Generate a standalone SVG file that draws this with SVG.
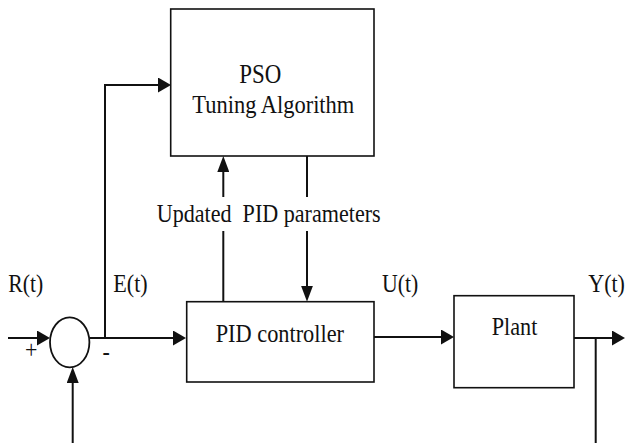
<svg xmlns="http://www.w3.org/2000/svg" width="625" height="443" viewBox="0 0 625 443">
<style>
.box{fill:#fff;stroke:#111;stroke-width:1.6}
.ln{fill:none;stroke:#111;stroke-width:2}
.t{font-family:"Liberation Serif","Times New Roman",serif;font-size:22px;fill:#111}
</style>
<defs>
<marker id="ah" markerWidth="13" markerHeight="15" refX="9" refY="7.5" orient="auto" markerUnits="userSpaceOnUse"><path d="M0,0 L13,7.5 L0,15 Z" fill="#111"/></marker>
<marker id="av" markerWidth="16" markerHeight="12" refX="12" refY="6" orient="auto" markerUnits="userSpaceOnUse"><path d="M0,0 L16,6 L0,12 Z" fill="#111"/></marker>
</defs>
<rect width="625" height="443" fill="#fff"/>
<g id="connectors">
<line class="ln" x1="8" y1="338" x2="46" y2="338" marker-end="url(#ah)"/>
<line class="ln" x1="89.5" y1="338" x2="182" y2="338" marker-end="url(#ah)"/>
<polyline class="ln" points="105,338 105,85 167,85" marker-end="url(#ah)"/>
<line class="ln" x1="72.7" y1="443" x2="72.7" y2="371" marker-end="url(#av)"/>
<line class="ln" x1="223.3" y1="301.7" x2="223.3" y2="231"/>
<line class="ln" x1="223.3" y1="197" x2="223.3" y2="160" marker-end="url(#av)"/>
<line class="ln" x1="307" y1="156" x2="307" y2="197"/>
<line class="ln" x1="307" y1="231" x2="307" y2="297.7" marker-end="url(#av)"/>
<line class="ln" x1="374" y1="337" x2="450" y2="337" marker-end="url(#ah)"/>
<line class="ln" x1="574" y1="338" x2="621" y2="338" marker-end="url(#ah)"/>
<line class="ln" x1="595.7" y1="338" x2="595.7" y2="443"/>
</g>
<g id="sum">
<ellipse cx="69.7" cy="342.3" rx="19.7" ry="25" fill="#fff" stroke="#111" stroke-width="1.8"/>
<text class="t" transform="translate(25,358) scale(1,1.15)">+</text>
<text class="t" transform="translate(102.5,360) scale(1,1.15)">-</text>
</g>
<g id="pso">
<rect class="box" x="170.7" y="9" width="203.3" height="147"/>
<text class="t" font-size="23" textLength="42" lengthAdjust="spacingAndGlyphs" transform="translate(239.3,83.3) scale(1,1.27)">PSO</text>
<text class="t" textLength="162" lengthAdjust="spacingAndGlyphs" transform="translate(192.3,113.3) scale(1,1.15)">Tuning Algorithm</text>
</g>
<g id="pid">
<rect class="box" x="186.7" y="301.7" width="187.3" height="80.3"/>
<text class="t" textLength="128.3" lengthAdjust="spacingAndGlyphs" transform="translate(215.7,341.7) scale(1,1.15)">PID controller</text>
</g>
<g id="plant">
<rect class="box" x="454" y="295.7" width="120" height="92"/>
<text class="t" textLength="45.6" lengthAdjust="spacingAndGlyphs" transform="translate(491.7,335) scale(1,1.15)">Plant</text>
</g>
<g id="labels">
<text class="t" xml:space="preserve" textLength="224" lengthAdjust="spacingAndGlyphs" transform="translate(156.7,221.7) scale(1,1.15)">Updated  PID parameters</text>
<text class="t" textLength="35" lengthAdjust="spacingAndGlyphs" transform="translate(8.3,291.7) scale(1,1.15)">R(t)</text>
<text class="t" textLength="34.4" lengthAdjust="spacingAndGlyphs" transform="translate(113.3,291.7) scale(1,1.15)">E(t)</text>
<text class="t" textLength="36.3" lengthAdjust="spacingAndGlyphs" transform="translate(382,291.7) scale(1,1.15)">U(t)</text>
<text class="t" transform="translate(588.3,291.7) scale(1,1.15)">Y(t)</text>
</g>
</svg>
